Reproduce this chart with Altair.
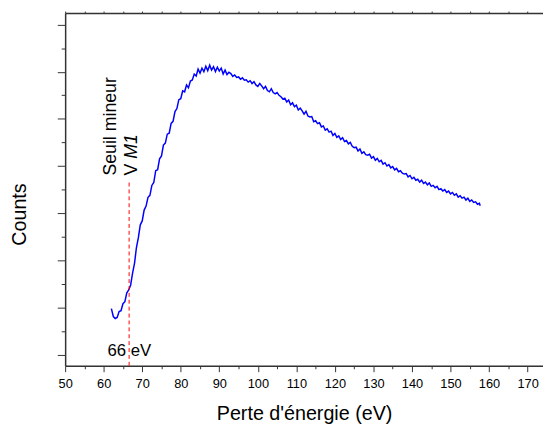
import altair as alt
import pandas as pd

energy = [62.0, 62.5, 63.0, 63.5, 64.0, 64.5, 65.0, 65.5, 66.0, 66.5, 67.0, 67.5, 68.0, 68.5, 69.0, 69.5,
          70.0, 70.5, 71.0, 71.5, 72.0, 72.5, 73.0, 73.5, 74.0, 74.5, 75.0, 75.5, 76.0, 76.5, 77.0, 77.5,
          78.0, 78.5, 79.0, 79.5, 80.0, 80.5, 81.0, 81.5, 82.0, 82.5, 83.0, 83.5, 84.0, 84.5, 85.0, 85.5,
          86.0, 86.5, 87.0, 87.5, 88.0, 88.5, 89.0, 89.5, 90.0, 90.5, 91.0, 91.5, 92.0, 92.5, 93.0, 93.5,
          94.0, 94.5, 95.0, 95.5, 96.0, 96.5, 97.0, 97.5, 98.0, 98.5, 99.0, 99.5, 100.0, 100.5, 101.0, 101.5,
          102.0, 102.5, 103.0, 103.5, 104.0, 104.5, 105.0, 105.5, 106.0, 106.5, 107.0, 107.5, 108.0, 108.5,
          109.0, 109.5, 110.0, 110.5, 111.0, 111.5, 112.0, 112.5, 113.0, 113.5, 114.0, 114.5, 115.0, 115.5,
          116.0, 116.5, 117.0, 117.5, 118.0, 118.5, 119.0, 119.5, 120.0, 120.5, 121.0, 121.5, 122.0, 122.5,
          123.0, 123.5, 124.0, 124.5, 125.0, 125.5, 126.0, 126.5, 127.0, 127.5, 128.0, 128.5, 129.0, 129.5,
          130.0, 130.5, 131.0, 131.5, 132.0, 132.5, 133.0, 133.5, 134.0, 134.5, 135.0, 135.5, 136.0, 136.5,
          137.0, 137.5, 138.0, 138.5, 139.0, 139.5, 140.0, 140.5, 141.0, 141.5, 142.0, 142.5, 143.0, 143.5,
          144.0, 144.5, 145.0, 145.5, 146.0, 146.5, 147.0, 147.5, 148.0, 148.5, 149.0, 149.5, 150.0, 150.5,
          151.0, 151.5, 152.0, 152.5, 153.0, 153.5, 154.0, 154.5, 155.0, 155.5, 156.0, 156.5, 157.0, 157.5,
          157.7]

counts = [976, 809, 767, 788, 913, 934, 1081, 1122, 1310, 1373, 1478, 1728, 1937, 2272, 2481, 2753,
          2836, 3066, 3150, 3338, 3380, 3589, 3651, 3902, 3923, 4153, 4216, 4445, 4487, 4675, 4696, 4905,
          4947, 5156, 5219, 5407, 5428, 5595, 5574, 5720, 5658, 5804, 5825, 5950, 5908, 6055, 5971, 6076,
          6002, 6117, 6023, 6138, 6034, 6107, 6002, 6097, 6013, 6076, 5950, 6034, 5940, 5990, 5960, 5900,
          5930, 5880, 5890, 5840, 5870, 5820, 5830, 5780, 5810, 5750, 5790, 5720, 5689, 5752, 5700, 5640,
          5690, 5600, 5574, 5640, 5560, 5530, 5560, 5500, 5470, 5420, 5440, 5360, 5400, 5300,
          5340, 5260, 5290, 5190, 5230, 5170, 5100, 5160, 5060, 5040, 5050, 4940, 4960, 4900,
          4920, 4830, 4850, 4760, 4790, 4720, 4740, 4650, 4690, 4610, 4640, 4560, 4600, 4520,
          4540, 4470, 4500, 4420, 4390, 4400, 4320, 4360, 4270, 4300, 4240, 4230, 4250, 4170,
          4200, 4120, 4160, 4090, 4120, 4040, 4070, 4000, 4030, 3960, 3990, 3920, 3950, 3880,
          3900, 3850, 3830, 3840, 3770, 3800, 3730, 3760, 3700, 3720, 3660, 3700, 3630, 3660,
          3600, 3640, 3570, 3590, 3540, 3570, 3500, 3520, 3470, 3500, 3440, 3470, 3410, 3440,
          3380, 3410, 3340, 3370, 3320, 3340, 3280, 3320, 3250, 3280, 3230, 3240, 3190, 3210,
          3160]

x_major = [50, 60, 70, 80, 90, 100, 110, 120, 130, 140, 150, 160, 170]
x_minor = [55, 65, 75, 85, 95, 105, 115, 125, 135, 145, 155, 165]
x_top = [50, 55, 60, 65, 70, 75, 80, 85, 90, 95, 100, 105, 110, 115, 120, 125, 130, 135, 140, 145,
         150, 155, 160, 165, 170]
y_major = [0, 1000, 2000, 3000, 4000, 5000, 6000, 7000]
y_minor = [500, 1500, 2500, 3500, 4500, 5500, 6500]

x_domain = [50, 174]
y_domain = [-236, 7244]

threshold = [{"e": 66.6, "top": 3650, "bottom": -236}]
labels_seuil = [{"e": 63.24, "c": 3797, "t": "Seuil mineur"}]
labels_v = [{"e": 68.57, "c": 3797, "t": "V"}]
labels_m1 = [{"e": 68.57, "c": 4152, "t": "M1"}]
labels_ev = [{"e": 66.64, "c": -30, "t": "66 eV"}]

FONT = "Liberation Sans"
AX = "#333333"

xs = alt.Scale(domain=x_domain, nice=False, zero=False)
ys = alt.Scale(domain=y_domain, nice=False, zero=False)

df = pd.DataFrame({"energy": energy, "counts": counts})

line = alt.Chart(df).mark_line(color="#0000ff", strokeWidth=1.5).encode(
    x=alt.X("energy:Q", scale=xs, axis=alt.Axis(
        orient="bottom", values=x_major, title="Perte d'énergie (eV)", tickSize=6,
        labelFontSize=13, labelFont=FONT, labelColor="black", labelPadding=6,
        titleFontSize=20, titleFont=FONT, titleFontWeight="normal", titleColor="black",
        titleBaseline="alphabetic", titleY=55, grid=False, domainColor=AX, tickColor=AX,
        domainWidth=1.5, tickWidth=1, labelFlush=False)),
    y=alt.Y("counts:Q", scale=ys, axis=alt.Axis(
        orient="left", values=y_major, labels=False, title="Counts", tickSize=8,
        titleFontSize=20, titleFont=FONT, titleFontWeight="normal", titleColor="black",
        titleBaseline="alphabetic", titleX=-40.7, titleY=204, titleAngle=270,
        grid=False, domainColor=AX, tickColor=AX, domainWidth=1.5, tickWidth=1)),
)

rule = alt.Chart(pd.DataFrame(threshold)).mark_rule(color="#ff0000", strokeDash=[4, 3], strokeWidth=1).encode(
    x=alt.X("e:Q", scale=xs, axis=alt.Axis(
        orient="bottom", values=x_minor, labels=False, title=None, tickSize=3, domain=False,
        grid=False, tickColor=AX, tickWidth=1)),
    y=alt.Y("top:Q", scale=ys, axis=alt.Axis(
        orient="left", values=y_minor, labels=False, title=None, tickSize=4, domain=False,
        grid=False, tickColor=AX, tickWidth=1)),
    y2="bottom:Q",
)

seuil = alt.Chart(pd.DataFrame(labels_seuil)).mark_text(
    angle=270, align="left", baseline="alphabetic", fontSize=18, font=FONT, color="black"
).encode(
    x=alt.X("e:Q", scale=xs, axis=alt.Axis(
        orient="top", values=x_top, labels=False, title=None, tickSize=2, grid=False,
        domainColor=AX, tickColor=AX, domainWidth=1.5, tickWidth=1)),
    y=alt.Y("c:Q", scale=ys, axis=None),
    text="t:N",
)

vtxt = alt.Chart(pd.DataFrame(labels_v)).mark_text(
    angle=270, align="left", baseline="alphabetic", fontSize=18, font=FONT, color="black"
).encode(
    x=alt.X("e:Q", scale=xs, axis=None),
    y=alt.Y("c:Q", scale=ys, axis=None),
    text="t:N",
)

m1txt = alt.Chart(pd.DataFrame(labels_m1)).mark_text(
    angle=270, align="left", baseline="alphabetic", fontSize=18, font=FONT, color="black",
    fontStyle="italic"
).encode(
    x=alt.X("e:Q", scale=xs, axis=None),
    y=alt.Y("c:Q", scale=ys, axis=None),
    text="t:N",
)

evtxt = alt.Chart(pd.DataFrame(labels_ev)).mark_text(
    align="center", baseline="alphabetic", fontSize=17, font=FONT, color="black"
).encode(
    x=alt.X("e:Q", scale=xs, axis=None),
    y=alt.Y("c:Q", scale=ys, axis=None),
    text="t:N",
)

chart = alt.layer(line, rule, seuil, vtxt, m1txt, evtxt).resolve_axis(
    x="independent", y="independent"
).properties(
    width=485, height=358,
    padding={"left": 58, "top": 2, "right": 0, "bottom": 60},
    autosize=alt.AutoSizeParams(type="none"),
).configure_view(stroke=None).configure(font=FONT)

chart.save("out.html", embed_options={"renderer": "svg", "actions": False})
